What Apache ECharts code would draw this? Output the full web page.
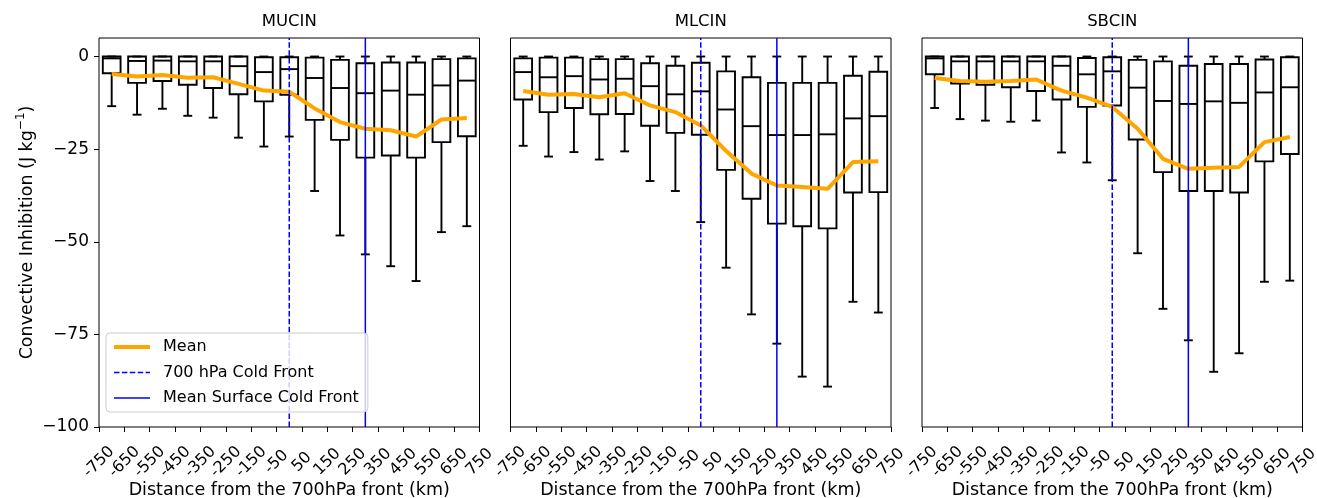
<!DOCTYPE html>
<html>
<head>
<meta charset="utf-8">
<script src="https://cdn.jsdelivr.net/npm/echarts@6/dist/echarts.min.js"></script>
<style>
  html, body { margin: 0; padding: 0; background: #ffffff; }
  #chart { width: 1317px; height: 498px; }
</style>
</head>
<body>
<div id="chart"></div>
<script>
// Distance of each box from the 700 hPa front (km)
const distances = [-700, -600, -500, -400, -300, -200, -100, 0, 100, 200, 300, 400, 500, 600, 700];
const xTicks = [-750, -650, -550, -450, -350, -250, -150, -50, 50, 150, 250, 350, 450, 550, 650, 750];
const yTicks = [-100, -75, -50, -25, 0];
const panelTitles = ['MUCIN', 'MLCIN', 'SBCIN'];

// Front positions (km)
const coldFront700 = 0;
const surfaceColdFront = 300;

// MUCIN (J kg-1)
const mucinLow    = [-13.4, -15.7, -14.1, -16.0, -16.5, -21.9, -24.3, -21.6, -36.3, -48.3, -53.4, -56.6, -60.6, -47.4, -45.8];
const mucinQ1     = [-4.5, -7.1, -6.6, -7.6, -8.5, -10.2, -12.1, -10.3, -17.1, -22.5, -27.3, -26.7, -27.3, -23.1, -21.5];
const mucinMedian = [-0.5, -1.2, -1.1, -1.3, -1.3, -2.6, -4.2, -3.4, -5.8, -8.5, -9.9, -9.2, -10.3, -7.8, -6.5];
const mucinQ3     = [0, 0, 0, 0, 0, 0, -0.2, -0.2, -0.3, -0.9, -1.8, -1.6, -1.6, -0.7, -0.5];
const mucinHigh   = [0, 0, 0, 0, 0, 0, 0, 0, 0, 0, 0, 0, 0, 0, 0];
const mucinMean   = [-4.7, -5.4, -5.0, -5.7, -5.6, -7.4, -9.2, -9.5, -14.0, -17.7, -19.5, -19.9, -21.6, -17.0, -16.6];

// MLCIN (J kg-1)
const mlcinLow    = [-24.1, -27.0, -25.8, -27.8, -25.6, -33.6, -36.3, -44.7, -57.0, -69.6, -77.5, -86.4, -89.1, -66.2, -69.1];
const mlcinQ1     = [-11.6, -15.0, -13.9, -15.6, -15.5, -18.7, -20.6, -21.1, -30.6, -38.4, -45.1, -45.8, -46.4, -36.7, -36.6];
const mlcinMedian = [-4.2, -5.6, -5.3, -6.2, -6.0, -8.0, -10.2, -9.4, -14.3, -18.8, -21.2, -21.2, -21.0, -16.7, -16.1];
const mlcinQ3     = [-0.5, -0.3, -0.3, -0.7, -0.7, -1.8, -2.5, -1.7, -4.0, -5.6, -7.1, -7.1, -7.1, -5.2, -4.1];
const mlcinHigh   = [0, 0, 0, 0, 0, 0, 0, 0, 0, 0, 0, 0, 0, 0, 0];
const mlcinMean   = [-9.3, -10.3, -10.1, -11.0, -9.9, -13.2, -15.0, -18.6, -25.5, -31.6, -34.8, -35.2, -35.7, -28.5, -28.3];

// SBCIN (J kg-1)
const sbcinLow    = [-13.9, -16.9, -17.3, -17.6, -17.3, -25.9, -28.6, -33.4, -53.1, -68.1, -76.6, -85.1, -80.1, -60.8, -60.5];
const sbcinQ1     = [-4.8, -7.3, -7.6, -8.3, -9.3, -11.6, -13.6, -13.2, -22.4, -31.2, -36.3, -36.3, -36.7, -28.3, -26.3];
const sbcinMedian = [-0.5, -1.3, -1.3, -1.3, -1.3, -2.5, -4.8, -4.0, -8.4, -12.0, -12.8, -12.1, -12.5, -9.7, -8.3];
const sbcinQ3     = [0, 0, 0, 0, 0, 0, -0.4, -0.2, -0.9, -1.3, -2.5, -2.0, -2.0, -0.8, -0.2];
const sbcinHigh   = [0, 0, 0, 0, 0, 0, 0, 0, 0, 0, 0, 0, 0, 0, 0];
const sbcinMean   = [-5.8, -6.6, -6.8, -6.6, -6.2, -9.2, -11.1, -13.6, -19.5, -27.6, -30.3, -30.0, -29.8, -23.1, -21.7];

const panels = [
  { low: mucinLow, q1: mucinQ1, median: mucinMedian, q3: mucinQ3, high: mucinHigh, mean: mucinMean },
  { low: mlcinLow, q1: mlcinQ1, median: mlcinMedian, q3: mlcinQ3, high: mlcinHigh, mean: mlcinMean },
  { low: sbcinLow, q1: sbcinQ1, median: sbcinMedian, q3: sbcinQ3, high: sbcinHigh, mean: sbcinMean }
];

const FONT = 'DejaVu Sans';
const BOX_HALF = 35;   // half box width, km
const CAP_HALF = 17.5; // half whisker-cap width, km
const Y_MIN = -100, Y_MAX = 5;

const gridLefts = [99, 510.5, 922];
const GRID_W = 380.5, GRID_TOP = 38, GRID_H = 389;

function renderBox(params, api) {
  const x = api.value(0);
  const lo = api.value(1), q1 = api.value(2), med = api.value(3), q3 = api.value(4), hi = api.value(5);
  const tl = api.coord([x - BOX_HALF, q3]);
  const br = api.coord([x + BOX_HALF, q1]);
  const mL = api.coord([x - BOX_HALF, med]);
  const mR = api.coord([x + BOX_HALF, med]);
  const bottomP = api.coord([x, q1]);
  const lowP = api.coord([x, lo]);
  const topP = api.coord([x, q3]);
  const hiP = api.coord([x, hi]);
  const capLoL = api.coord([x - CAP_HALF, lo]), capLoR = api.coord([x + CAP_HALF, lo]);
  const capHiL = api.coord([x - CAP_HALF, hi]), capHiR = api.coord([x + CAP_HALF, hi]);
  const st = { stroke: '#000', lineWidth: 1.9, fill: null };
  const seg = (a, b) => ({ type: 'line', shape: { x1: a[0], y1: a[1], x2: b[0], y2: b[1] }, style: st });
  return {
    type: 'group',
    children: [
      seg(bottomP, lowP),
      seg(topP, hiP),
      seg(capLoL, capLoR),
      seg(capHiL, capHiR),
      { type: 'rect', shape: { x: tl[0], y: tl[1], width: br[0] - tl[0], height: br[1] - tl[1] },
        style: { stroke: '#000', lineWidth: 1.9, fill: null } },
      seg(mL, mR)
    ]
  };
}

const grids = [], xAxes = [], yAxes = [], series = [], titles = [];

panels.forEach((p, i) => {
  grids.push({
    left: gridLefts[i], top: GRID_TOP, width: GRID_W, height: GRID_H,
    outerBoundsMode: 'none', containLabel: false,
    show: true, borderColor: '#000', borderWidth: 1, backgroundColor: 'transparent'
  });
  titles.push({
    text: panelTitles[i],
    left: gridLefts[i] + GRID_W / 2,
    top: 13,
    textAlign: 'center',
    padding: 0,
    textStyle: { fontFamily: FONT, fontSize: 16.5, fontWeight: 'normal', color: '#000' }
  });
  xAxes.push({
    type: 'value', gridIndex: i, min: -750, max: 750,
    name: 'Distance from the 700hPa front (km)',
    nameLocation: 'middle', nameGap: 54, nameMoveOverlap: false,
    nameTextStyle: { fontFamily: FONT, fontSize: 17.5, color: '#000' },
    axisLine: { show: false, onZero: false },
    splitLine: { show: false },
    axisTick: { show: true, length: 5, customValues: xTicks, lineStyle: { color: '#000', width: 1 } },
    axisLabel: {
      customValues: xTicks, rotate: 45, margin: 35,
      align: 'center', verticalAlign: 'middle',
      fontFamily: FONT, fontSize: 16, color: '#000',
      formatter: v => String(v)
    }
  });
  yAxes.push({
    type: 'value', gridIndex: i, min: Y_MIN, max: Y_MAX,
    name: i === 0 ? 'Convective Inhibition (J kg{sup|−1})' : '',
    nameLocation: 'middle', nameGap: 60, nameRotate: 90, nameMoveOverlap: false,
    nameTextStyle: {
      fontFamily: FONT, fontSize: 17.5, color: '#000',
      rich: { sup: { fontFamily: FONT, fontSize: 12, color: '#000', verticalAlign: 'top', padding: [0, 0, 12, 0] } }
    },
    axisLine: { show: false, onZero: false },
    splitLine: { show: false },
    axisTick: { show: i === 0, length: 5, customValues: yTicks, lineStyle: { color: '#000', width: 1 } },
    axisLabel: {
      show: i === 0, customValues: yTicks, margin: 10,
      fontFamily: FONT, fontSize: 17, color: '#000',
      formatter: v => (v < 0 ? '\u2212' + Math.abs(v) : String(v))
    }
  });

  const boxData = distances.map((d, k) => [d, p.low[k], p.q1[k], p.median[k], p.q3[k], p.high[k]]);
  series.push({
    type: 'custom', xAxisIndex: i, yAxisIndex: i,
    renderItem: renderBox,
    encode: { x: 0, y: [1, 2, 3, 4, 5] },
    data: boxData, z: 2, silent: true
  });
  series.push({
    name: 'Mean', type: 'line', xAxisIndex: i, yAxisIndex: i,
    data: distances.map((d, k) => [d, p.mean[k]]),
    symbol: 'none', z: 3, silent: true,
    lineStyle: { color: '#FFA500', width: 4 },
    itemStyle: { color: '#FFA500' }
  });
  series.push({
    name: '700 hPa Cold Front', type: 'line', xAxisIndex: i, yAxisIndex: i,
    data: [[coldFront700, Y_MIN], [coldFront700, Y_MAX]],
    symbol: 'none', z: 4, silent: true,
    lineStyle: { color: '#0000FF', width: 1.5, type: [5.5, 2.4] },
    itemStyle: { color: '#0000FF' }
  });
  series.push({
    name: 'Mean Surface Cold Front', type: 'line', xAxisIndex: i, yAxisIndex: i,
    data: [[surfaceColdFront, Y_MIN], [surfaceColdFront, Y_MAX]],
    symbol: 'none', z: 4, silent: true,
    lineStyle: { color: '#0000FF', width: 1.5 },
    itemStyle: { color: '#0000FF' }
  });
});

const chart = echarts.init(document.getElementById('chart'), null, { renderer: 'canvas' });
chart.setOption({
  animation: false,
  backgroundColor: '#ffffff',
  textStyle: { fontFamily: FONT },
  title: titles,
  legend: {
    data: [
      { name: 'Mean', lineStyle: { color: '#FFA500', width: 4 } },
      { name: '700 hPa Cold Front', lineStyle: { color: '#0000FF', width: 1.5, type: [5.5, 2.4] } },
      { name: 'Mean Surface Cold Front', lineStyle: { color: '#0000FF', width: 1.5 } }
    ],
    orient: 'vertical', left: 106, top: 333, z: 10,
    itemWidth: 36, itemHeight: 14, itemGap: 9.5,
    padding: [6, 9, 6, 6],
    backgroundColor: 'rgba(255,255,255,0.8)',
    borderColor: '#cccccc', borderWidth: 1, borderRadius: 4,
    selectedMode: false,
    itemStyle: { color: 'rgba(0,0,0,0)', borderWidth: 0, opacity: 0 },
    textStyle: { fontFamily: FONT, fontSize: 16, color: '#000', lineHeight: 16, padding: [0, 0, 0, 8] }
  },
  grid: grids,
  xAxis: xAxes,
  yAxis: yAxes,
  series: series
});
</script>
</body>
</html>
